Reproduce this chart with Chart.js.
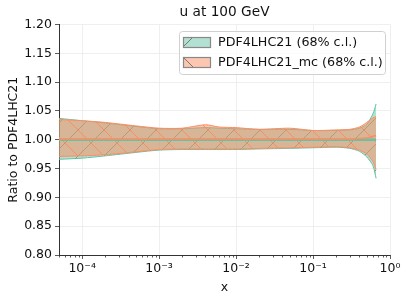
<!DOCTYPE html>
<html>
<head>
<meta charset="utf-8">
<script src="https://cdn.jsdelivr.net/npm/chart.js@4.4.0/dist/chart.umd.min.js"></script>
<style>
  html, body { margin: 0; padding: 0; background: #fff; }
</style>
</head>
<body>
<canvas id="ratio-chart" width="407" height="299"></canvas>
<script>
// x values (log spaced) and band edges
const xVals = [5e-5, 1e-4, 2e-4, 5e-4, 1e-3, 2e-3, 4e-3, 6e-3, 1e-2, 2e-2, 5e-2, 0.1, 0.2, 0.3, 0.4, 0.5, 0.6, 0.66];

const greenUp  = [1.037, 1.033, 1.029, 1.023, 1.019, 1.019, 1.021, 1.020, 1.019, 1.018, 1.018, 1.016, 1.016, 1.017, 1.020, 1.027, 1.045, 1.062];
const greenLo  = [0.966, 0.968, 0.972, 0.978, 0.982, 0.983, 0.983, 0.983, 0.983, 0.984, 0.985, 0.986, 0.987, 0.985, 0.980, 0.970, 0.955, 0.933];
const greenMid = [1.000, 1.000, 1.000, 1.000, 1.000, 1.000, 1.000, 1.000, 1.000, 1.000, 1.000, 1.000, 1.000, 1.000, 1.000, 1.000, 1.000, 1.000];

const mcUp  = [1.035, 1.033, 1.030, 1.024, 1.020, 1.020, 1.026, 1.022, 1.021, 1.018, 1.020, 1.016, 1.017, 1.018, 1.022, 1.030, 1.038, 1.040];
const mcLo  = [0.971, 0.972, 0.974, 0.979, 0.983, 0.984, 0.984, 0.984, 0.984, 0.985, 0.986, 0.987, 0.988, 0.986, 0.982, 0.975, 0.962, 0.948];
const mcMid = [1.001, 1.001, 1.001, 1.001, 1.001, 1.001, 1.001, 1.001, 1.001, 1.001, 1.001, 1.001, 1.001, 1.001, 1.002, 1.003, 1.006, 1.007];

const majorTicks = [1e-4, 1e-3, 1e-2, 1e-1, 1];
const tickLabels = ['10⁻⁴', '10⁻³', '10⁻²', '10⁻¹', '10⁰'];
const seriesNames = ['PDF4LHC21 (68% c.l.)', 'PDF4LHC21_mc (68% c.l.)'];

const green = 'rgb(102,194,165)';
const orange = 'rgb(252,141,98)';
const font = 'DejaVu Sans';

const ctx = document.getElementById('ratio-chart').getContext('2d');

function hatch(fill, line, dir, size) {
    const c = document.createElement('canvas');
    c.width = size; c.height = size;
    const g = c.getContext('2d');
    g.fillStyle = fill;
    g.fillRect(0, 0, size, size);
    g.strokeStyle = line;
    g.lineWidth = 1;
    g.beginPath();
    if (dir == '/') {
        g.moveTo(-1, size + 1); g.lineTo(size + 1, -1);
        g.moveTo(-2, 2); g.lineTo(2, -2);
        g.moveTo(size - 2, size + 2); g.lineTo(size + 2, size - 2);
    } else {
        g.moveTo(-1, -1); g.lineTo(size + 1, size + 1);
        g.moveTo(size - 2, -2); g.lineTo(size + 2, 2);
        g.moveTo(-2, size - 2); g.lineTo(2, size + 2);
    }
    g.stroke();
    return ctx.createPattern(c, 'repeat');
}

const greenHatch = hatch('rgba(102,194,165,0.5)', 'rgba(90,140,110,0.7)', '/', 26);
const orangeHatch = hatch('rgba(252,141,98,0.52)', 'rgba(252,141,98,1)', '\\', 26);

function pts(arr) {
    return xVals.map((x, i) => ({ x: x, y: arr[i] }));
}

// minor ticks on the log axis
const minorTicks = {
    id: 'minorTicks',
    afterDraw(chart) {
        const sx = chart.scales.x;
        const c = chart.ctx;
        const bottom = chart.chartArea.bottom;
        c.save();
        c.strokeStyle = '#333';
        c.lineWidth = 0.8;
        for (let d = -5; d < 0; d++) {
            for (let k = 2; k < 10; k++) {
                const v = k * Math.pow(10, d);
                if (v < sx.min || v > sx.max) continue;
                const px = Math.round(sx.getPixelForValue(v)) + 0.5;
                c.beginPath();
                c.moveTo(px, bottom);
                c.lineTo(px, bottom + 2.5);
                c.stroke();
            }
        }
        c.restore();
    }
};

// legend box in the upper right, like matplotlib
const boxLegend = {
    id: 'boxLegend',
    afterDraw(chart) {
        const c = chart.ctx;
        const x0 = 179, y0 = 31, w = 206, h = 43;
        c.save();
        c.fillStyle = 'rgba(255,255,255,0.8)';
        c.strokeStyle = '#d0d0d0';
        c.lineWidth = 1;
        c.beginPath();
        c.roundRect(x0 + 0.5, y0 + 0.5, w, h, 3);
        c.fill();
        c.stroke();
        const fills = [['rgba(102,194,165,0.5)', '/'], ['rgba(252,141,98,0.5)', '\\']];
        for (let i = 0; i < 2; i++) {
            const sy = y0 + 6 + i * 20;
            c.fillStyle = fills[i][0];
            c.fillRect(183, sy, 27, 10);
            c.strokeStyle = 'rgba(110,110,110,0.9)';
            c.beginPath();
            if (fills[i][1] == '/') { c.moveTo(183, sy + 10); c.lineTo(193, sy); }
            else { c.moveTo(183, sy); c.lineTo(193, sy + 10); }
            c.stroke();
            c.strokeStyle = '#888';
            c.lineWidth = 1.2;
            c.strokeRect(183.5, sy + 0.5, 27, 10);
            c.lineWidth = 1;
            c.fillStyle = '#111';
            c.font = '12.7px "' + font + '"';
            c.textBaseline = 'middle';
            c.fillText(seriesNames[i], 218, sy + 5.5);
        }
        c.restore();
    }
};

new Chart(ctx, {
    type: 'line',
    data: {
        datasets: [
            { data: pts(greenUp), fill: '+1', backgroundColor: greenHatch, borderColor: green, borderWidth: 1, order: 4 },
            { data: pts(greenLo), fill: false, borderColor: green, borderWidth: 1, order: 4 },
            { data: pts(mcUp), fill: '+1', backgroundColor: orangeHatch, borderColor: orange, borderWidth: 1, order: 3 },
            { data: pts(mcLo), fill: false, borderColor: orange, borderWidth: 1, order: 3 },
            { data: pts(greenMid), fill: false, borderColor: green, borderWidth: 2.5, order: 2 },
            { data: pts(mcMid), fill: false, borderColor: orange, borderWidth: 1.5, order: 1 }
        ]
    },
    options: {
        responsive: false,
        animation: false,
        elements: { point: { radius: 0 }, line: { tension: 0.25 } },
        layout: { padding: { left: 0, right: 17, top: 0, bottom: 0 } },
        plugins: {
            legend: { display: false },
            tooltip: { enabled: false },
            title: {
                display: true,
                fullSize: false,
                text: 'u at 100 GeV',
                color: '#111',
                font: { family: font, size: 13.7, weight: 'normal' },
                padding: { top: 4, bottom: 4 }
            }
        },
        scales: {
            x: {
                type: 'logarithmic',
                min: 5e-5,
                max: 1,
                afterBuildTicks: (s) => { s.ticks = majorTicks.map(v => ({ value: v })); },
                afterFit: (s) => { s.height = 44; },
                ticks: {
                    autoSkip: false,
                    maxRotation: 0,
                    color: '#111',
                    padding: 2,
                    font: { family: font, size: 12.5 },
                    callback: (v) => tickLabels[majorTicks.indexOf(v)]
                },
                grid: { color: '#ebebeb', lineWidth: 0.8, tickLength: 4, tickColor: '#333' },
                border: { display: true, color: '#333', width: 1 },
                title: {
                    display: true, text: 'x', color: '#111',
                    font: { family: font, size: 12.5 },
                    padding: { top: 0, bottom: 4 }
                }
            },
            y: {
                min: 0.8,
                max: 1.2,
                afterFit: (s) => { s.width = 59; },
                ticks: {
                    stepSize: 0.05,
                    color: '#111',
                    padding: 3,
                    font: { family: font, size: 12.5 },
                    callback: (v) => v.toFixed(2)
                },
                grid: { color: '#ebebeb', lineWidth: 0.8, tickLength: 4, tickColor: '#333' },
                border: { display: true, color: '#333', width: 1 },
                title: {
                    display: true, text: 'Ratio to PDF4LHC21', color: '#111',
                    font: { family: font, size: 12.5 },
                    padding: { top: 6, bottom: 0 }
                }
            }
        }
    },
    plugins: [minorTicks, boxLegend]
});
</script>
</body>
</html>
